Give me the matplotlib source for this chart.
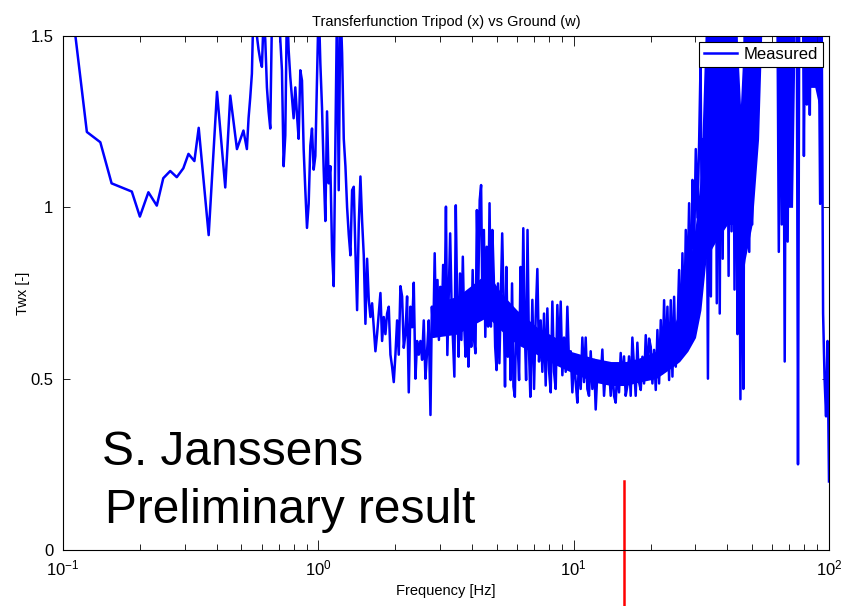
import matplotlib
matplotlib.use('Agg')
import matplotlib.pyplot as plt
import numpy as np

plt.rcParams['font.family'] = ['Liberation Sans', 'DejaVu Sans']

# low-frequency part, each point (Hz, Twx)
low_freq = [0.109, 0.124, 0.140, 0.155, 0.186, 0.200, 0.216, 0.233, 0.247, 0.263, 0.279,
            0.296, 0.310, 0.327, 0.340, 0.372, 0.401, 0.432, 0.452, 0.480, 0.509, 0.525]
low_vals = [1.57, 1.22, 1.19, 1.07, 1.046, 0.973, 1.044, 1.005, 1.085, 1.106, 1.088,
            1.114, 1.156, 1.135, 1.232, 0.919, 1.337, 1.058, 1.326, 1.17, 1.224, 1.17]

# denser bands: (first Hz, last Hz) and values read at roughly even steps on the log axis
band_b_range = (0.533, 1.22)
band_b = [1.26, 1.32, 1.39, 1.6, 1.62, 1.50, 1.46, 1.43, 1.41, 1.55, 1.49, 1.35, 1.28, 1.23,
          1.55, 1.65, 1.7, 1.65, 1.6, 1.49, 1.40, 1.12, 1.21, 1.6, 1.46, 1.38, 1.32, 1.26,
          1.35, 1.27, 1.20, 1.40, 1.37, 1.17, 1.05, 0.94, 1.01, 1.18, 1.23, 1.11, 1.15, 1.37,
          1.6, 1.42, 1.29, 1.11, 0.96, 1.28, 1.07, 1.12, 0.875, 0.77, 1.19, 1.6, 1.05, 1.6]

band_c_range = (1.239, 2.707)
band_c = [1.45, 1.20, 1.12, 1.00, 0.92, 0.86, 1.05, 1.06, 0.87, 0.70, 0.95, 1.09, 0.96, 0.86,
          0.66, 0.85, 0.73, 0.68, 0.72, 0.65, 0.58, 0.63, 0.69, 0.75, 0.61, 0.68, 0.63, 0.69,
          0.71, 0.57, 0.535, 0.49, 0.57, 0.67, 0.57, 0.77, 0.74, 0.59, 0.63, 0.74, 0.46, 0.71,
          0.65, 0.78, 0.50, 0.61, 0.57, 0.61, 0.555, 0.67, 0.50, 0.58, 0.67]

band_d_range = (2.749, 6.765)
band_d = [0.394, 0.71, 0.622, 0.866, 0.642, 0.788, 0.613, 0.768, 0.652, 0.832, 0.681, 1.002,
          0.569, 0.749, 0.924, 0.72, 0.613, 0.506, 1.006, 0.72, 0.564, 0.807, 0.613, 0.856,
          0.652, 0.564, 0.739, 0.535, 0.69, 0.593, 0.817, 0.613, 0.574, 0.992, 0.768, 1.021,
          1.065, 0.69, 0.934, 0.622, 0.885, 0.652, 1.012, 0.652, 0.934, 0.797, 0.593, 0.525,
          0.778, 0.545, 0.739, 0.924, 0.729, 0.477, 0.826, 0.564, 0.69, 0.496, 0.778, 0.477,
          0.447, 0.69, 0.603, 0.496, 0.826, 0.603, 0.939, 0.652, 0.496, 0.934, 0.593, 0.447]

band_e_range = (6.89, 18.03)
band_e = [0.73, 0.47, 0.68, 0.82, 0.55, 0.67, 0.52, 0.69, 0.48, 0.705, 0.525, 0.46, 0.725,
          0.52, 0.47, 0.715, 0.545, 0.725, 0.51, 0.62, 0.52, 0.71, 0.545, 0.58, 0.46, 0.57,
          0.49, 0.43, 0.56, 0.47, 0.62, 0.49, 0.62, 0.47, 0.45, 0.58, 0.47, 0.555, 0.41, 0.52,
          0.545, 0.50, 0.585, 0.45, 0.525, 0.49, 0.535, 0.45, 0.535, 0.45, 0.43, 0.535, 0.46,
          0.575, 0.49, 0.565, 0.45, 0.48, 0.565, 0.45, 0.62, 0.535, 0.45, 0.605, 0.49]

band_f_range = (18.31, 31.0)
band_f = [0.467, 0.564, 0.486, 0.627, 0.506, 0.617, 0.593, 0.486, 0.584, 0.467, 0.642, 0.486,
          0.671, 0.516, 0.729, 0.525, 0.71, 0.496, 0.729, 0.506, 0.739, 0.535, 0.642, 0.817,
          0.584, 0.866, 0.622, 0.934, 0.759, 1.012, 0.66, 1.08, 0.88, 1.17, 0.97, 1.19]

band_g_range = (31.4, 100.0)
band_g = [1.42, 0.84, 1.20, 1.00, 1.30, 0.50, 1.40, 0.74, 1.60, 0.94, 1.65, 0.72, 1.70, 0.69,
          1.62, 0.85, 1.75, 1.05, 1.60, 0.80, 1.70, 0.93, 1.65, 0.76, 1.70, 0.63, 1.30, 0.44,
          1.25, 0.47, 1.65, 0.94, 1.70, 0.87, 1.65, 0.95, 1.70, 1.80, 1.65, 1.90, 1.70, 2.00,
          1.75, 1.90, 1.70, 1.85, 1.65, 1.95, 1.70, 1.80, 1.60, 1.75, 1.65, 0.87, 1.70, 0.95,
          1.65, 0.55, 1.70, 0.90, 1.65, 1.80, 1.60, 1.85, 1.70, 1.90, 0.25, 1.85, 1.70, 1.90,
          1.15, 1.70, 1.30, 1.80, 1.27, 1.75, 1.38, 1.80, 1.40, 1.70, 1.60, 1.01, 1.60, 0.69,
          0.50, 0.39, 0.61, 0.20]

# solid core of the noisy band (where the trace is too dense to tell points apart)
core_freq = [2.8, 3.5, 4.1, 4.6, 5.2, 6.0, 7.2, 8.5, 9.7, 12, 14, 16, 18, 21, 24, 26, 28,
             30, 31.5, 33, 36, 40, 43, 45, 47, 50, 53, 55, 66, 68, 72, 74, 80, 82, 88, 91]
core_lo = [0.62, 0.63, 0.66, 0.68, 0.64, 0.60, 0.57, 0.54, 0.52, 0.49, 0.48, 0.48, 0.49,
           0.50, 0.53, 0.55, 0.58, 0.62, 0.70, 0.85, 0.90, 0.95, 0.95, 0.75, 0.85, 0.95,
           1.20, 1.60, 1.60, 1.00, 1.00, 1.60, 1.60, 1.35, 1.35, 1.30]
core_hi = [0.72, 0.74, 0.78, 0.81, 0.75, 0.70, 0.65, 0.62, 0.58, 0.56, 0.55, 0.55, 0.56,
           0.58, 0.63, 0.70, 0.80, 0.95, 1.10, 1.60, 1.60, 1.60, 1.60, 1.30, 1.60, 1.60,
           1.60, 1.70, 1.70, 1.60, 1.60, 1.70, 1.70, 1.60, 1.60, 1.60]

marker_freq = 15.7
marker_top = 0.2

bands = [(band_b_range, band_b), (band_c_range, band_c), (band_d_range, band_d),
         (band_e_range, band_e), (band_f_range, band_f), (band_g_range, band_g)]

freq = list(low_freq)
twx = list(low_vals)
for (f0, f1), vals in bands:
    freq.extend(np.geomspace(f0, f1, len(vals)))
    twx.extend(vals)

fig = plt.figure(figsize=(8.56, 6.06), dpi=100)
ax = fig.add_axes([63 / 856, 56 / 606, 766 / 856, 514 / 606])

ax.fill_between(core_freq, core_lo, core_hi, color='#0000ff', lw=0, zorder=1.5)
ax.plot(freq, twx, color='#0000ff', lw=1.8, label='Measured', zorder=2)
ax.set_xscale('log')
ax.set_xlim(0.1, 100)
ax.set_ylim(0, 1.5)
ax.set_yticks([0, 0.5, 1, 1.5])
ax.set_yticklabels(['0', '0.5', '1', '1.5'])

ax.tick_params(which='both', direction='in', top=True, right=True, labelsize=12, width=0.6)
ax.tick_params(axis='x', which='major', length=7, pad=6)
ax.tick_params(axis='x', which='minor', length=4.5)
ax.tick_params(axis='y', which='major', length=5, pad=7)
for s in ax.spines.values():
    s.set_linewidth(0.8)

ax.set_title('Transferfunction Tripod (x) vs Ground (w)', fontsize=10.5, pad=7)
ax.set_xlabel('Frequency [Hz]', fontsize=10.5, labelpad=4)
ax.set_ylabel('Twx [-]', fontsize=10.5, labelpad=0)

leg = ax.legend(loc='upper right', fontsize=12, fancybox=False, framealpha=1,
                edgecolor='black', borderpad=0.3, handlelength=2.0, handletextpad=0.4,
                borderaxespad=0.35)
leg.get_frame().set_linewidth(0.8)

ax.text(0.142, 0.248, 'S. Janssens', fontsize=34.5, va='baseline', ha='left')
ax.text(0.146, 0.079, 'Preliminary result', fontsize=34.5, va='baseline', ha='left')

ax.plot([marker_freq, marker_freq], [marker_top, -0.25], color='red', lw=1.8, clip_on=False)

fig.savefig('out.png', dpi=100)
